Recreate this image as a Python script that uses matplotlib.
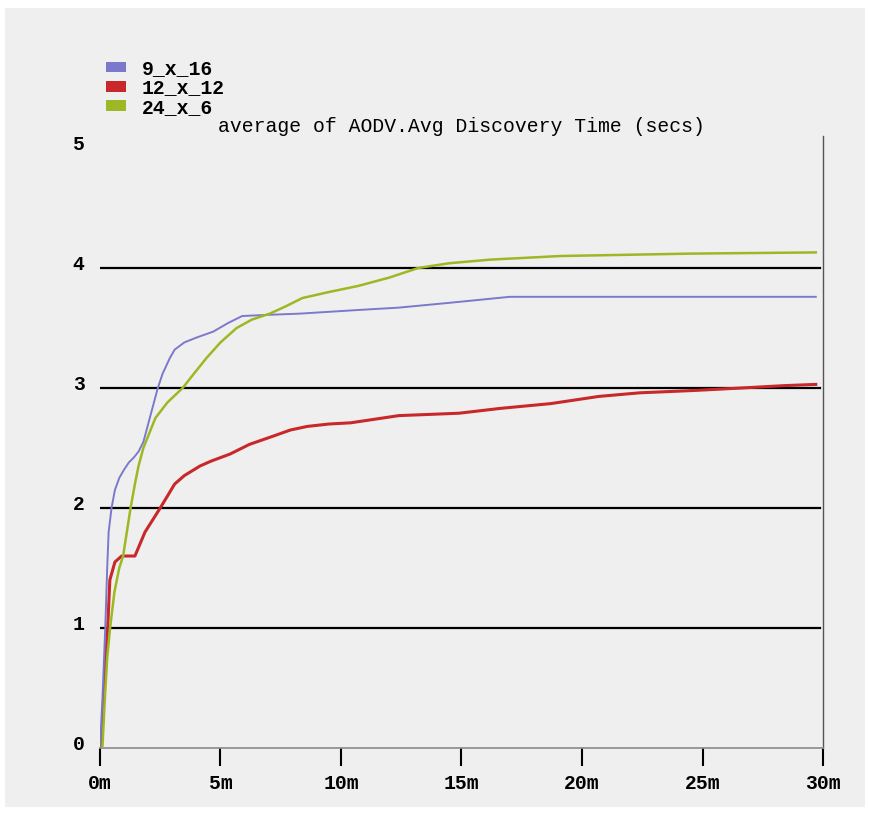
import matplotlib
matplotlib.use("Agg")
import matplotlib.pyplot as plt
import matplotlib.transforms as mtransforms
from matplotlib.patches import Patch, Rectangle

# time in minutes, avg discovery time in seconds
t_9x16 = [0, 0.1, 0.18, 0.22, 0.3, 0.36, 0.48, 0.62, 0.8, 1.0, 1.2, 1.4, 1.6,
          1.8, 2.0, 2.2, 2.4, 2.6, 2.9, 3.1, 3.5, 4.0, 4.7, 5.3, 5.9, 7.0,
          8.3, 10.7, 12.4, 14.5, 17.0, 29.7]
v_9x16 = [0, 0.4, 0.8, 1.0, 1.5, 1.8, 2.0, 2.15, 2.25, 2.32, 2.38, 2.42, 2.47,
          2.55, 2.7, 2.85, 3.0, 3.12, 3.25, 3.32, 3.38, 3.42, 3.47, 3.54, 3.6, 3.61,
          3.62, 3.65, 3.67, 3.71, 3.76, 3.76]

t_12x12 = [0.05, 0.15, 0.25, 0.32, 0.41, 0.62, 0.9, 1.45, 1.87, 2.5, 2.8, 3.1,
           3.5, 4.15, 4.6, 5.4, 6.2, 7.2, 7.9, 8.6, 9.5, 10.4, 12.4, 14.9, 16.6,
           18.7, 20.7, 22.4, 24.7, 26.6, 28.4, 29.7]
v_12x12 = [0, 0.4, 0.8, 1.0, 1.4, 1.55, 1.6, 1.6, 1.8, 2.0, 2.1, 2.2,
           2.27, 2.35, 2.39, 2.45, 2.53, 2.6, 2.65, 2.68, 2.7, 2.71, 2.77, 2.79, 2.83,
           2.87, 2.93, 2.96, 2.98, 3.0, 3.02, 3.03]

t_24x6 = [0.1, 0.2, 0.3, 0.42, 0.6, 0.8, 0.96, 1.27, 1.45, 1.6, 1.8, 2.0,
          2.3, 2.8, 3.43, 3.9, 4.42, 5.0, 5.67, 6.3, 7.05, 7.7, 8.4, 9.5, 10.7,
          12.0, 13.2, 14.5, 16.2, 19.1, 24.5, 29.7]
v_24x6 = [0, 0.4, 0.75, 1.0, 1.3, 1.5, 1.6, 2.0, 2.2, 2.35, 2.5, 2.6,
          2.75, 2.88, 3.0, 3.12, 3.25, 3.38, 3.5, 3.57, 3.62, 3.68, 3.75, 3.8, 3.85,
          3.92, 4.0, 4.04, 4.07, 4.1, 4.12, 4.13]

series_names = ["9_x_16", "12_x_12", "24_x_6"]
colors = ["#7b79cc", "#c8282a", "#9cb824"]
x_ticks = [0, 5, 10, 15, 20, 25, 30]
y_ticks = [0, 1, 2, 3, 4, 5]
title = "average of AODV.Avg Discovery Time (secs)"

plt.rcParams['font.family'] = ['Liberation Mono', 'DejaVu Sans Mono']
plt.rcParams['font.weight'] = 'bold'
fs = 14.2

fig = plt.figure(figsize=(8.7, 8.15), dpi=100)
fig.patch.set_facecolor("white")
fig.add_artist(Rectangle((0.006, 0.01), 0.988, 0.98, transform=fig.transFigure,
                         facecolor="#efefef", edgecolor="none", zorder=-10))

ax = fig.add_axes([0.1149, 0.0822, 0.8311, 0.7509])
ax.set_facecolor("none")
ax.set_xlim(0, 30)
ax.set_ylim(0, 5.1)

for y in [1, 2, 3, 4]:
    ax.axhline(y, xmin=0, xmax=0.996, color="black", lw=1.6, zorder=1)

ax.plot(t_9x16, v_9x16, color=colors[0], lw=1.4, zorder=3)
ax.plot(t_12x12, v_12x12, color=colors[1], lw=2.2, zorder=2)
ax.plot(t_24x6, v_24x6, color=colors[2], lw=1.8, zorder=3)

for s in ["left", "top"]:
    ax.spines[s].set_visible(False)
ax.spines["bottom"].set_color("#8a8a8a")
ax.spines["bottom"].set_linewidth(1.2)
ax.spines["right"].set_color("#555555")
ax.spines["right"].set_linewidth(1.0)

ax.set_xticks(x_ticks)
ax.set_xticklabels([f"{v}m" for v in x_ticks])
ax.set_yticks(y_ticks)
ax.set_yticklabels([str(v) for v in y_ticks])
ax.tick_params(axis="x", length=13, width=1.5, color="black", pad=6, labelsize=fs)
ax.tick_params(axis="y", length=0, pad=11, labelsize=fs)

off = mtransforms.ScaledTranslation(0, 4 / 72, fig.dpi_scale_trans)
for lab in ax.get_yticklabels():
    lab.set_transform(lab.get_transform() + off)

ax.set_title(title, fontsize=fs, pad=3)

handles = [Patch(facecolor=c, edgecolor="none") for c in colors]
fig.legend(handles, series_names, loc="upper left",
           bbox_to_anchor=(106 / 870, 1 - 59 / 815), frameon=False,
           fontsize=fs, handlelength=1.0, handleheight=0.45,
           handletextpad=0.8, labelspacing=0.02, borderpad=0, borderaxespad=0)

fig.savefig("out.png", dpi=100)
